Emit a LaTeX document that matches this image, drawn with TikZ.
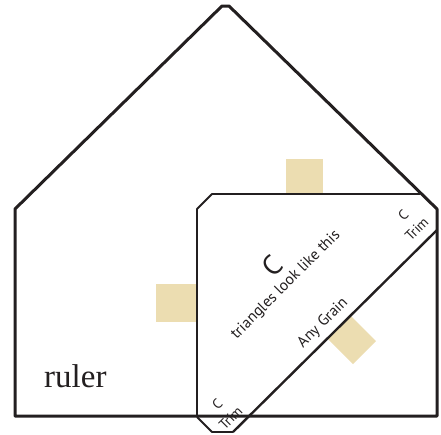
\documentclass[tikz,border=0pt]{standalone}
\usepackage{fontspec}
\setmainfont{Liberation Serif}
\setsansfont{PT Sans}
\usepackage{tikz}
\usetikzlibrary{positioning}

\definecolor{tab}{RGB}{236,221,177}
\definecolor{ink}{RGB}{35,31,32}

\begin{document}
\begin{tikzpicture}[x=1pt, y=-1pt,
  outline/.style={draw=ink, line width=3pt, line join=round},
  piece/.style={draw=ink, line width=1.8pt, line join=round},
  label/.style={font=\sffamily\fontsize{15.5}{18}\selectfont, text=ink, rotate=45, inner sep=0pt},
  trim/.style={font=\sffamily\fontsize{14}{19}\selectfont, text=ink, rotate=45, inner sep=0pt, align=center}]

\useasboundingbox (0,0) rectangle (441,434);

% tabs
\fill[tab] (286,159) rectangle (323,194);
\fill[tab] (156,284) rectangle (196,322);
\fill[tab] (328,339) -- (351,316) -- (376,341) -- (353,364) -- cycle;

% house
\draw[outline] (15,416) -- (15,209) -- (222,6) -- (229,6) -- (437,209) -- (437,416) -- cycle;

% triangle piece
\draw[piece] (197,417) -- (197,209) -- (212,194) -- (420,194);
\draw[piece] (197,417) -- (212,432) -- (233,432);

% cut line
\draw[ink, line width=2.4pt] (233,432) -- (437,230);

% texts
\node[label, font=\sffamily\fontsize{28}{30}\selectfont] (bigC) at (272,266) {C};
\node[label] (triangles) at (286,285) {triangles look like this};
\node[label] (grain) at (323,323) {Any Grain};
\node[trim] (trimA) at (410,222) {C\\Trim};
\node[trim] (trimB) at (224,411) {C\\Trim};

\node[font=\fontsize{33}{36}\selectfont, text=ink, anchor=base west, inner sep=0pt] (ruler) at (44,387) {ruler};

\end{tikzpicture}
\end{document}
